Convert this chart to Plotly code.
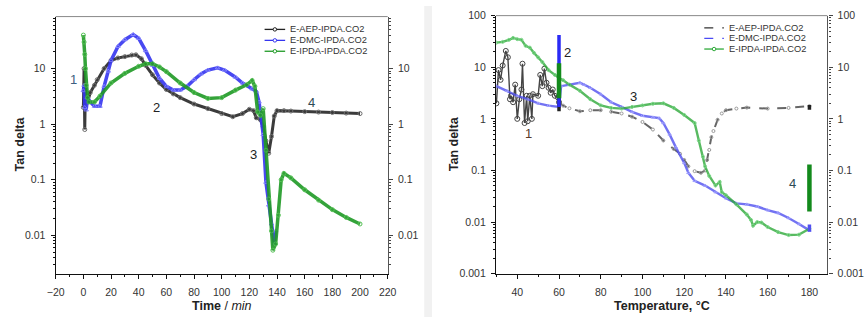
import math
import plotly.graph_objects as go

# ---------------- data: left panel (time, min) ----------------
t_aep = [0, 0.5, 1, 1.5, 2, 3, 5, 8, 10, 15, 20, 25, 30, 35, 38, 42, 45, 50, 55, 60, 65, 70, 80, 90,
         100, 108, 115, 120, 123, 125, 128, 130, 132, 134, 136, 138, 140, 145, 150, 160, 170, 180, 190, 200]
v_aep = [2, 10, 0.8, 5, 3, 2.5, 3.7, 5, 6.3, 10, 14, 15.5, 16.4, 17.5, 17.7, 15, 11.4, 7.7, 5.5, 4.2, 3.5, 3.0, 2.3, 1.9,
         1.55, 1.36, 1.55, 1.85, 1.75, 1.3, 1.2, 0.9, 0.5, 0.3, 0.6, 1.4, 1.75, 1.75, 1.72, 1.68, 1.65, 1.62, 1.58, 1.55]

t_dmc = [0, 0.5, 1, 2, 3, 5, 8, 12, 15, 18, 20, 25, 30, 36, 40, 45, 50, 55, 60, 65, 70, 75, 80, 85, 90,
         97, 102, 110, 115, 122, 125, 127, 128, 130, 132, 134, 136, 138, 139]
v_dmc = [4, 5, 2, 1.8, 3, 2.5, 2.1, 2.1, 4.8, 9, 14, 25, 33, 41, 35, 21, 11.4, 6.7, 4.8, 4.1, 4.1, 4.8, 6.3, 8.0, 9.4,
         10.3, 9.4, 7.0, 5.5, 4.3, 3.9, 2.5, 1.65, 0.65, 0.09, 0.035, 0.016, 0.007, 0.012]

t_ipda = [0, 0.5, 1, 1.5, 2, 3, 4, 8, 12, 20, 30, 40, 45, 50, 55, 60, 70, 80, 90, 100, 110, 118, 122, 124,
          126, 128, 130, 132, 134, 136, 137, 139, 141, 143, 145, 150, 160, 170, 180, 190, 200]
v_ipda = [40, 30, 18, 10, 5, 3, 2.5, 2.5, 3.2, 5.5, 8.2, 11, 12.2, 12.2, 10.7, 8.8, 5.5, 3.7, 2.9, 3.0, 4.1, 5.1, 6.1, 4.8,
          1.66, 1.45, 1.9, 0.34, 0.045, 0.012, 0.0054, 0.007, 0.023, 0.1, 0.13, 0.108, 0.066, 0.043, 0.029, 0.021, 0.016]

# ---------------- data: right panel (temperature, °C) ----------------
T_aep = [30, 31, 32, 33, 34.5, 35.5, 36.5, 37, 38, 39, 40, 41, 42, 42.5, 43.5, 44.5, 45, 46, 47, 47.5, 50, 51,
         52, 53, 54, 55, 56, 57, 58, 59.5, 60, 62, 65, 70, 75, 80, 85, 90, 95, 100, 105, 110, 115, 118, 120,
         122, 125, 128, 130, 131, 132, 133, 134, 136, 138, 140, 145, 150, 160, 170, 180]
w_aep = [2, 8.8, 5.7, 10.8, 20.7, 15.6, 2.4, 2.8, 2.1, 4.6, 1.0, 2.4, 3.7, 11.7, 0.83, 2.8, 0.9, 2.8, 1.0, 3.0, 2.8, 7.1,
         4.3, 9.4, 5.0, 4.0, 3.2, 3.7, 2.8, 2.6, 2.1, 1.8, 1.6, 1.4, 1.47, 1.47, 1.37, 1.27, 1.1, 0.87, 0.62, 0.38, 0.26, 0.21, 0.16,
         0.12, 0.097, 0.09, 0.10, 0.16, 0.25, 0.44, 0.58, 0.96, 1.27, 1.47, 1.58, 1.65, 1.58, 1.63, 1.77]

T_dmc = [30, 35, 40, 45, 50, 55, 60, 61, 65, 70, 72, 75, 80, 85, 90, 95, 100, 105, 108, 110, 113, 116, 120,
         122, 125, 130, 135, 140, 145, 150, 155, 160, 165, 170, 175, 180]
w_dmc = [4.3, 3.5, 2.8, 2.4, 2.0, 1.8, 1.7, 4.3, 4.6, 5.0, 4.6, 4.0, 3.0, 2.1, 1.7, 1.37, 1.15, 1.07, 1.03, 0.83, 0.5, 0.28, 0.14,
         0.09, 0.063, 0.051, 0.038, 0.029, 0.023, 0.022, 0.02, 0.017, 0.015, 0.012, 0.0092, 0.0069]

T_ipda = [30, 33, 36, 38, 40, 42, 44, 46, 48, 50, 52, 55, 58, 60, 62, 65, 70, 75, 80, 85, 90, 95, 100, 105,
          110, 115, 120, 125, 127, 129, 130, 132, 135, 137, 138, 140, 145, 150, 152, 153, 155, 157, 160, 165, 170, 175, 180]
w_ipda = [30, 31, 34, 37, 35, 34, 26, 24, 19, 15.5, 12.6, 8.8, 7.1, 6.2, 5.6, 4.6, 3.5, 2.4, 1.82, 1.63, 1.58, 1.7, 1.82, 1.96,
          2.0, 1.63, 1.19, 0.83, 0.38, 0.185, 0.12, 0.078, 0.051, 0.06, 0.038, 0.033, 0.022, 0.014, 0.011, 0.0085, 0.01, 0.0098,
          0.008, 0.0064, 0.0056, 0.0057, 0.0074]

# isothermal holds (vertical stacks of points)
hold_T = [60, 60]
hold60_aep = [1.4, 3.0]
hold60_dmc = [1.7, 42]
hold60_ipda = [2.5, 12]
hold_T2 = [180, 180]
hold180_aep = [1.5, 1.85]
hold180_dmc = [0.0065, 0.009]
hold180_ipda = [0.016, 0.13]

names = ["E-AEP-IPDA.CO2", "E-DMC-IPDA.CO2", "E-IPDA-IPDA.CO2"]
x_ticks_left = [-20, 0, 20, 40, 60, 80, 100, 120, 140, 160, 180, 200, 220]
x_ticks_right = [40, 60, 80, 100, 120, 140, 160, 180]
y_ticks_left = [0.01, 0.1, 1, 10]
y_ticks_right = [0.001, 0.01, 0.1, 1, 10, 100]

FONT = "Liberation Sans, Arial, sans-serif"
BLACK = "#1a1a1a"
BLUE = "#3535f0"
GREEN = "#1f9a25"

W, H = 868, 323
fig = go.Figure()

# left panel traces
fig.add_trace(go.Scatter(x=t_aep, y=v_aep, mode="lines+markers", xaxis="x", yaxis="y",
                         line=dict(color=BLACK, width=3), opacity=0.85,
                         marker=dict(symbol="circle-open", size=4, color="#555"), showlegend=False))
fig.add_trace(go.Scatter(x=t_dmc, y=v_dmc, mode="lines+markers", xaxis="x", yaxis="y",
                         line=dict(color=BLUE, width=3.5), opacity=0.9,
                         marker=dict(symbol="triangle-up-open", size=4, color="#7777ff"), showlegend=False))
fig.add_trace(go.Scatter(x=t_ipda, y=v_ipda, mode="lines+markers", xaxis="x", yaxis="y",
                         line=dict(color=GREEN, width=3.5), opacity=0.9,
                         marker=dict(symbol="circle-open", size=4, color="#44bb44"), showlegend=False))

# right panel traces
split = T_aep.index(60)
fig.add_trace(go.Scatter(x=T_aep[:split + 1], y=w_aep[:split + 1], mode="lines+markers", xaxis="x2", yaxis="y2",
                         line=dict(color="#444", width=1.4),
                         marker=dict(symbol="circle-open", size=5, color="#444"), showlegend=False))
fig.add_trace(go.Scatter(x=T_aep[split:], y=w_aep[split:], mode="lines+markers", xaxis="x2", yaxis="y2",
                         line=dict(color="#666", width=2, dash="dash"),
                         marker=dict(symbol="circle-open", size=3, color="#999"), showlegend=False))
fig.add_trace(go.Scatter(x=T_dmc, y=w_dmc, mode="lines+markers", xaxis="x2", yaxis="y2",
                         line=dict(color="#5050f0", width=2.4), opacity=0.8,
                         marker=dict(symbol="triangle-up-open", size=3, color="#8888ff"), showlegend=False))
fig.add_trace(go.Scatter(x=T_ipda, y=w_ipda, mode="lines+markers", xaxis="x2", yaxis="y2",
                         line=dict(color="#2faa3a", width=2.4), opacity=0.8,
                         marker=dict(symbol="circle-open", size=3, color="#55cc66"), showlegend=False))
hold_specs = [(hold_T, hold60_aep, "#222", 3.5), (hold_T, hold60_dmc, "#2a2af5", 3.5), (hold_T, hold60_ipda, "#138a1c", 4.5),
              (hold_T2, hold180_aep, "#222", 3.5), (hold_T2, hold180_dmc, "#5050f0", 3.5), (hold_T2, hold180_ipda, "#138a1c", 4.5)]
for xs, vals, col, lw in hold_specs:
    fig.add_trace(go.Scatter(x=xs, y=vals, mode="lines", xaxis="x2", yaxis="y2",
                             line=dict(color=col, width=lw), showlegend=False))

# domains (pixel based)
xl = [47.7 / W, 386.7 / W]
xr = [497.3 / W, 835.7 / W]
yl = [(H - 278) / H, (H - 11) / H]
yr = [(H - 278) / H, (H - 10) / H]

def minor_vals(lo, hi):
    out = []
    for e in range(lo, hi + 1):
        for m in range(2, 10):
            out.append(m * 10 ** e)
    return out

tickfont = dict(family=FONT, size=10.5, color="#333")
common_x = dict(showgrid=False, zeroline=False, showline=True, linecolor="#111", linewidth=1.3,
                ticks="outside", ticklen=4, tickwidth=1, tickcolor="#111", tickfont=tickfont,
                ticklabelstandoff=5)
common_y = dict(type="log", showgrid=False, zeroline=False, showline=True, linecolor="#111", linewidth=1.3,
                ticks="outside", ticklen=4, tickwidth=1, tickcolor="#111", tickfont=tickfont,
                ticklabelstandoff=3)

fig.update_layout(
    width=W, height=H, margin=dict(l=0, r=0, t=0, b=0),
    paper_bgcolor="white", plot_bgcolor="white",
    font=dict(family=FONT, color="#222"),
    xaxis=dict(domain=xl, range=[-20, 220], anchor="y", tickvals=x_ticks_left,
               minor=dict(ticks="outside", ticklen=2, tickcolor="#111", dtick=10, tick0=0), **common_x),
    yaxis=dict(domain=yl, range=[-2.69, 1.935], anchor="x", tickvals=y_ticks_left,
               ticktext=[str(v) for v in y_ticks_left],
               minor=dict(ticks="outside", ticklen=2, tickcolor="#111", tickvals=minor_vals(-3, 1)), **common_y),
    yaxis3=dict(overlaying="y", side="right", anchor="x", range=[-2.69, 1.935], tickvals=y_ticks_left,
                ticktext=[str(v) for v in y_ticks_left],
                minor=dict(ticks="outside", ticklen=2, tickcolor="#444", tickvals=minor_vals(-3, 1)),
                **{**common_y, "linecolor": "#555", "tickcolor": "#444"}),
    xaxis2=dict(domain=xr, range=[29.8, 188.6], anchor="y2", tickvals=x_ticks_right,
                minor=dict(ticks="outside", ticklen=2, tickcolor="#111", dtick=10, tick0=0), **common_x),
    yaxis2=dict(domain=yr, range=[-3, 2], anchor="x2", tickvals=y_ticks_right,
                ticktext=[str(v) for v in y_ticks_right],
                minor=dict(ticks="outside", ticklen=2, tickcolor="#111", tickvals=minor_vals(-3, 1)), **common_y),
    yaxis4=dict(overlaying="y2", side="right", anchor="x2", range=[-3, 2], tickvals=y_ticks_right,
                ticktext=[str(v) for v in y_ticks_right],
                minor=dict(ticks="outside", ticklen=2, tickcolor="#444", tickvals=minor_vals(-3, 1)),
                **{**common_y, "linecolor": "#555", "tickcolor": "#444"}),
)
# dummy traces so overlay axes render
fig.add_trace(go.Scatter(x=[None], y=[None], xaxis="x", yaxis="y3", showlegend=False))
fig.add_trace(go.Scatter(x=[None], y=[None], xaxis="x2", yaxis="y4", showlegend=False))

shapes = []
# separator between panels
shapes.append(dict(type="rect", xref="paper", yref="paper", x0=424 / W, x1=432 / W, y0=0, y1=1,
                   fillcolor="#f1f1f1", line=dict(width=0), layer="below"))
# top frame lines
shapes.append(dict(type="line", xref="paper", yref="paper", x0=xl[0], x1=xl[1], y0=yl[1], y1=yl[1],
                   line=dict(color="#888", width=1)))
shapes.append(dict(type="line", xref="paper", yref="paper", x0=xr[0], x1=xr[1], y0=yr[1], y1=yr[1],
                   line=dict(color="#888", width=1)))

annotations = []
# manual legends
leg_styles = [
    [dict(color="#222", dash="solid"), dict(color=BLUE, dash="solid"), dict(color=GREEN, dash="solid")],
    [dict(color="#333", dash="dash"), dict(color="#4a4af5", dash="dash"), dict(color="#2faa3a", dash="solid")],
]
leg_pos = [(261, 282, 285, [24.3, 35.7, 47.0]), (710, 730, 733, [22.7, 33.7, 44.7])]
for p, (lx0, lx1, tx, rows) in enumerate(leg_pos):
    for i, nm in enumerate(names):
        yy = 1 - rows[i] / H
        st = leg_styles[p][i]
        shapes.append(dict(type="line", xref="paper", yref="paper", x0=lx0 / W, x1=lx1 / W, y0=yy, y1=yy,
                           line=dict(color=st["color"], width=1.3, dash=st["dash"])))
        if p == 0 or i == 2:
            cx = (lx0 + lx1) / 2
            shapes.append(dict(type="circle", xref="paper", yref="paper",
                               x0=(cx - 1.8) / W, x1=(cx + 1.8) / W, y0=yy - 1.8 / H, y1=yy + 1.8 / H,
                               line=dict(color=st["color"], width=1), fillcolor="white"))
        annotations.append(dict(text=nm, xref="paper", yref="paper", x=tx / W, y=yy, xanchor="left",
                                yanchor="middle", showarrow=False,
                                font=dict(family=FONT, size=9.3, color="#333")))

# axis titles
title_font = dict(family=FONT, size=12.5, color="#222")
annotations += [
    dict(text="<b>Tan delta</b>", xref="paper", yref="paper", x=11 / W, y=1 - 143 / H, textangle=-90,
         xanchor="center", yanchor="middle", showarrow=False, font=title_font),
    dict(text="<b>Tan delta</b>", xref="paper", yref="paper", x=454 / W, y=1 - 143 / H, textangle=-90,
         xanchor="center", yanchor="middle", showarrow=False, font=title_font),
    dict(text="<b>Time</b> / <i>min</i>", xref="paper", yref="paper", x=217 / W, y=1 - 312 / H,
         xanchor="center", yanchor="middle", showarrow=False, font=title_font),
    dict(text="<b>Temperature, °C</b>", xref="paper", yref="paper", x=667 / W, y=1 - 312 / H,
         xanchor="center", yanchor="middle", showarrow=False, font=title_font),
]

# region labels (data coordinates)
labels_left = [("1", -7.3, 6.3, "#3d6080"), ("2", 53, 2.0, "#222"), ("3", 122.7, 0.286, "#222"), ("4", 165.2, 2.47, "#2d4a55")]
labels_right = [("1", 45.5, 0.52, "#5a3a2a"), ("2", 63.9, 19.3, "#222"), ("3", 95.8, 2.7, "#222"), ("4", 171.7, 0.057, "#2d4a55")]
for s, xv, yv, c in labels_left:
    annotations.append(dict(text=s, xref="x", yref="y", x=xv, y=math.log10(yv), showarrow=False,
                            font=dict(family=FONT, size=13, color=c)))
for s, xv, yv, c in labels_right:
    annotations.append(dict(text=s, xref="x2", yref="y2", x=xv, y=math.log10(yv), showarrow=False,
                            font=dict(family=FONT, size=13, color=c)))

fig.update_layout(shapes=shapes, annotations=annotations)
fig.write_html("out.html")
